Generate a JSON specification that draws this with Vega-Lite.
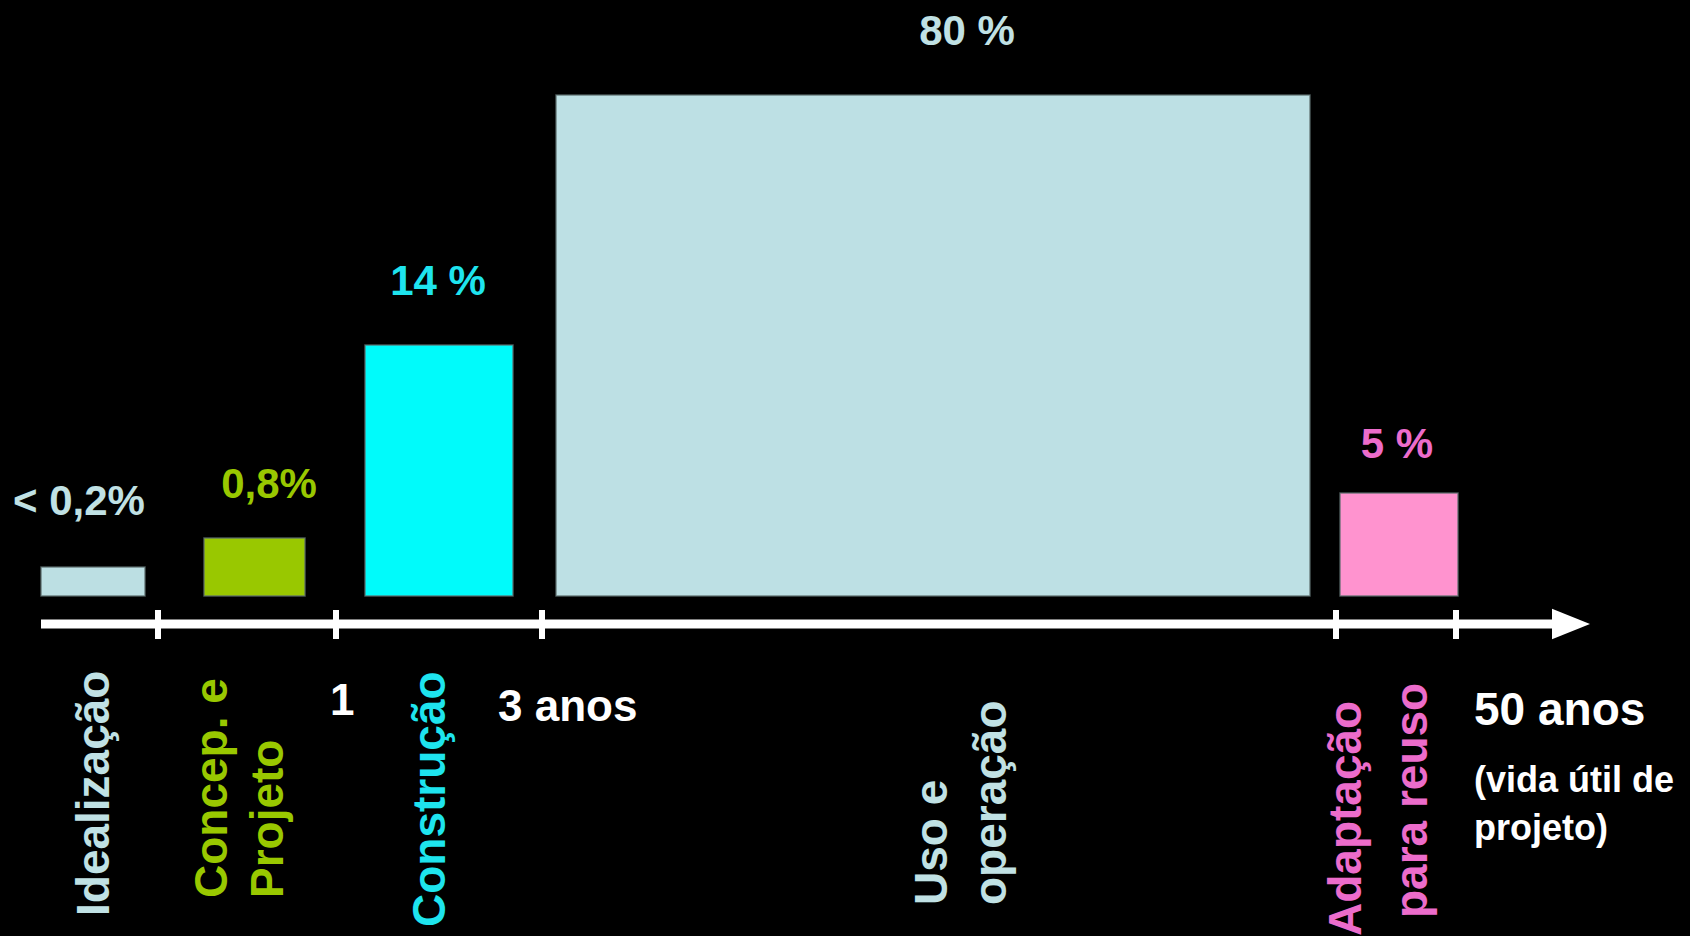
{
  "$schema": "https://vega.github.io/schema/vega-lite/v6.json",
  "width": 1690,
  "height": 936,
  "autosize": {"type": "fit", "contains": "padding"},
  "padding": 0,
  "background": "black",
  "config": {"view": {"stroke": null}},
  "datasets": {
    "bars": [
      {"fase": "Idealização", "pct": "< 0,2%", "inicio": 4.1, "fim": 14.5, "topo": 2.9, "base": 0, "lx": 7.9, "ly": 9.4},
      {"fase": "Concepção e Projeto", "pct": "0,8%", "inicio": 20.4, "fim": 30.5, "topo": 5.8, "base": 0, "lx": 26.9, "ly": 11.1},
      {"fase": "Construção", "pct": "14 %", "inicio": 36.5, "fim": 51.3, "topo": 25.1, "base": 0, "lx": 43.8, "ly": 31.4},
      {"fase": "Uso e operação", "pct": "80 %", "inicio": 55.6, "fim": 131.0, "topo": 50.1, "base": 0, "lx": 96.7, "ly": 56.4},
      {"fase": "Adaptação para reuso", "pct": "5 %", "inicio": 134.0, "fim": 145.8, "topo": 10.3, "base": 0, "lx": 139.7, "ly": 15.1}
    ],
    "faseLabels": [
      {"fase": "Idealização", "texto": "Idealização", "x": 9.5, "y": -32.0},
      {"fase": "Concepção e Projeto", "texto": "Concep. e", "x": 21.3, "y": -30.2},
      {"fase": "Concepção e Projeto", "texto": "Projeto", "x": 26.9, "y": -30.2},
      {"fase": "Construção", "texto": "Construção", "x": 43.1, "y": -33.1},
      {"fase": "Uso e operação", "texto": "Uso e", "x": 93.3, "y": -30.9},
      {"fase": "Uso e operação", "texto": "operação", "x": 99.2, "y": -30.9},
      {"fase": "Adaptação para reuso", "texto": "Adaptação", "x": 134.7, "y": -34.0},
      {"fase": "Adaptação para reuso", "texto": "para reuso", "x": 141.3, "y": -32.2}
    ],
    "eixo": [{"x": 4.1, "x2": 156.0, "y": -2.8}],
    "ticks": [
      {"x": 15.8, "y": -1.4, "y2": -4.3},
      {"x": 33.6, "y": -1.4, "y2": -4.3},
      {"x": 54.2, "y": -1.4, "y2": -4.3},
      {"x": 133.6, "y": -1.4, "y2": -4.3},
      {"x": 145.6, "y": -1.4, "y2": -4.3}
    ],
    "seta": [{"x": 157.1, "y": -2.8}],
    "tempoGrande": [
      {"texto": "1", "x": 33.0, "y": -10.6},
      {"texto": "3 anos", "x": 49.8, "y": -11.2}
    ],
    "tempoFim": [{"texto": "50 anos", "x": 147.4, "y": -11.5}],
    "nota": [{"texto": "(vida útil de\nprojeto)", "x": 147.4, "y": -18.5}]
  },
  "layer": [
    {
      "data": {"name": "bars"},
      "mark": {"type": "rect", "stroke": "#5a6a6c", "strokeWidth": 1.5, "strokeOpacity": 0.8},
      "encoding": {
        "x": {"field": "inicio", "type": "quantitative", "scale": {"domain": [0, 169], "nice": false, "zero": false}, "axis": null},
        "x2": {"field": "fim"},
        "y": {"field": "topo", "type": "quantitative", "scale": {"domain": [-34, 59.6], "nice": false, "zero": false}, "axis": null},
        "y2": {"field": "base"},
        "fill": {
          "field": "fase", "type": "nominal", "legend": null,
          "scale": {
            "domain": ["Idealização", "Concepção e Projeto", "Construção", "Uso e operação", "Adaptação para reuso"],
            "range": ["#bcdfe3", "#99c800", "#00fbfb", "#bde0e4", "#ff93cf"]
          }
        }
      }
    },
    {
      "data": {"name": "bars"},
      "mark": {"type": "text", "align": "center", "baseline": "middle", "font": "Liberation Sans", "fontWeight": "bold", "fontSize": 42},
      "encoding": {
        "x": {"field": "lx", "type": "quantitative", "scale": {"domain": [0, 169], "nice": false, "zero": false}, "axis": null},
        "y": {"field": "ly", "type": "quantitative", "scale": {"domain": [-34, 59.6], "nice": false, "zero": false}, "axis": null},
        "text": {"field": "pct"},
        "color": {
          "field": "fase", "type": "nominal", "legend": null,
          "scale": {
            "domain": ["Idealização", "Concepção e Projeto", "Construção", "Uso e operação", "Adaptação para reuso"],
            "range": ["#c0e1e4", "#99c800", "#1ee4ee", "#c0e1e4", "#ec6ccb"]
          }
        }
      }
    },
    {
      "data": {"name": "faseLabels"},
      "mark": {"type": "text", "angle": 270, "align": "left", "baseline": "middle", "font": "Liberation Sans", "fontWeight": "bold", "fontSize": 46},
      "encoding": {
        "x": {"field": "x", "type": "quantitative", "scale": {"domain": [0, 169], "nice": false, "zero": false}, "axis": null},
        "y": {"field": "y", "type": "quantitative", "scale": {"domain": [-34, 59.6], "nice": false, "zero": false}, "axis": null},
        "text": {"field": "texto"},
        "color": {
          "field": "fase", "type": "nominal", "legend": null,
          "scale": {
            "domain": ["Idealização", "Concepção e Projeto", "Construção", "Uso e operação", "Adaptação para reuso"],
            "range": ["#c0e1e4", "#99c800", "#1ee4ee", "#c0e1e4", "#ec6ccb"]
          }
        }
      }
    },
    {
      "data": {"name": "eixo"},
      "mark": {"type": "rule", "color": "white", "strokeWidth": 9},
      "encoding": {
        "x": {"field": "x", "type": "quantitative", "scale": {"domain": [0, 169], "nice": false, "zero": false}, "axis": null},
        "x2": {"field": "x2"},
        "y": {"field": "y", "type": "quantitative", "scale": {"domain": [-34, 59.6], "nice": false, "zero": false}, "axis": null}
      }
    },
    {
      "data": {"name": "ticks"},
      "mark": {"type": "rule", "color": "white", "strokeWidth": 6},
      "encoding": {
        "x": {"field": "x", "type": "quantitative", "scale": {"domain": [0, 169], "nice": false, "zero": false}, "axis": null},
        "y": {"field": "y", "type": "quantitative", "scale": {"domain": [-34, 59.6], "nice": false, "zero": false}, "axis": null},
        "y2": {"field": "y2"}
      }
    },
    {
      "data": {"name": "seta"},
      "mark": {"type": "point", "shape": "M1,0L-1,-0.8L-1,0.8Z", "filled": true, "color": "white", "opacity": 1, "size": 1444},
      "encoding": {
        "x": {"field": "x", "type": "quantitative", "scale": {"domain": [0, 169], "nice": false, "zero": false}, "axis": null},
        "y": {"field": "y", "type": "quantitative", "scale": {"domain": [-34, 59.6], "nice": false, "zero": false}, "axis": null}
      }
    },
    {
      "data": {"name": "tempoGrande"},
      "mark": {"type": "text", "align": "left", "baseline": "middle", "font": "Liberation Sans", "fontWeight": "bold", "fontSize": 44, "color": "white"},
      "encoding": {
        "x": {"field": "x", "type": "quantitative", "scale": {"domain": [0, 169], "nice": false, "zero": false}, "axis": null},
        "y": {"field": "y", "type": "quantitative", "scale": {"domain": [-34, 59.6], "nice": false, "zero": false}, "axis": null},
        "text": {"field": "texto"}
      }
    },
    {
      "data": {"name": "tempoFim"},
      "mark": {"type": "text", "align": "left", "baseline": "middle", "font": "Liberation Sans", "fontWeight": "bold", "fontSize": 46, "color": "white"},
      "encoding": {
        "x": {"field": "x", "type": "quantitative", "scale": {"domain": [0, 169], "nice": false, "zero": false}, "axis": null},
        "y": {"field": "y", "type": "quantitative", "scale": {"domain": [-34, 59.6], "nice": false, "zero": false}, "axis": null},
        "text": {"field": "texto"}
      }
    },
    {
      "data": {"name": "nota"},
      "mark": {"type": "text", "align": "left", "baseline": "middle", "lineBreak": "\n", "lineHeight": 48, "font": "Liberation Sans", "fontWeight": "bold", "fontSize": 36, "color": "white"},
      "encoding": {
        "x": {"field": "x", "type": "quantitative", "scale": {"domain": [0, 169], "nice": false, "zero": false}, "axis": null},
        "y": {"field": "y", "type": "quantitative", "scale": {"domain": [-34, 59.6], "nice": false, "zero": false}, "axis": null},
        "text": {"field": "texto"}
      }
    }
  ],
  "resolve": {"scale": {"color": "independent", "fill": "independent"}}
}
